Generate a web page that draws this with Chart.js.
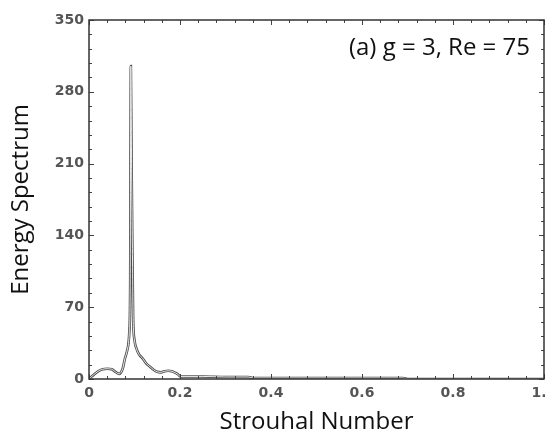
<!DOCTYPE html>
<html>
<head>
<meta charset="utf-8">
<script src="https://cdn.jsdelivr.net/npm/chart.js@4/dist/chart.umd.min.js"></script>
<style>
  html, body { margin: 0; padding: 0; background: #fff; overflow: hidden; }
  .graphBox { position: relative; width: 545px; height: 432px; }
</style>
</head>
<body>
<div class="graphBox"><canvas id="spectrum"></canvas></div>
<script>
// values
const strouhal = [0, 0.01, 0.02, 0.03, 0.04, 0.05, 0.058, 0.066, 0.074, 0.079, 0.084, 0.0885,
  0.0905, 0.092, 0.0935, 0.095, 0.097, 0.1, 0.104, 0.11, 0.118, 0.126, 0.134, 0.142, 0.15,
  0.158, 0.166, 0.174, 0.182, 0.19, 0.197, 0.2, 0.22, 0.25, 0.3, 0.35, 0.36, 0.45, 0.55,
  0.65, 0.69, 0.7, 0.8, 0.9, 1];
const energy = [0, 4, 7.5, 9.5, 10, 9.5, 7, 5, 10, 20, 28, 45,
  90, 305, 215, 145, 60, 38, 30, 24, 20, 15, 12, 9, 7,
  6.5, 7.5, 8, 7.5, 6, 4, 2.5, 2.5, 2.5, 2, 2, 1, 1, 1,
  1, 1, 0, 0, 0, 0];
const xTicks = [0, 0.2, 0.4, 0.6, 0.8, 1];
const yTicks = [0, 70, 140, 210, 280, 350];
const caseLabel = "(a) g = 3, Re = 75";

const points = strouhal.map((s, i) => ({x: s, y: energy[i]}));

// inward ticks on all four sides + frame
const frameTicks = {
  id: 'frameTicks',
  afterDatasetsDraw(chart) {
    const {ctx, chartArea: a, scales} = chart;
    ctx.save();
    ctx.strokeStyle = '#444';
    ctx.lineWidth = 1;
    const xs = scales.x, ys = scales.y;
    for (let i = 0; i < xTicks.length; i++) {
      const v = xTicks[i];
      for (let k = 0; k < 5; k++) {
        const val = v + k * 0.04;
        if (val > 1.0001) break;
        const px = Math.round(xs.getPixelForValue(val)) + 0.5;
        const len = k === 0 ? 5 : 3;
        ctx.beginPath();
        ctx.moveTo(px, a.bottom); ctx.lineTo(px, a.bottom - len);
        ctx.moveTo(px, a.top); ctx.lineTo(px, a.top + len);
        ctx.stroke();
      }
    }
    for (let i = 0; i < yTicks.length; i++) {
      const v = yTicks[i];
      for (let k = 0; k < 5; k++) {
        const val = v + k * 14;
        if (val > 350.01) break;
        const py = Math.round(ys.getPixelForValue(val)) + 0.5;
        const len = k === 0 ? 5 : 3;
        ctx.beginPath();
        ctx.moveTo(a.left, py); ctx.lineTo(a.left + len, py);
        ctx.moveTo(a.right, py); ctx.lineTo(a.right - len, py);
        ctx.stroke();
      }
    }
    ctx.lineWidth = 1.5;
    ctx.strokeStyle = '#333';
    ctx.strokeRect(a.left, a.top, a.right - a.left, a.bottom - a.top);
    // case label
    ctx.fillStyle = '#111';
    ctx.font = '24px "Open Sans"';
    ctx.textAlign = 'right';
    ctx.textBaseline = 'alphabetic';
    ctx.fillText(caseLabel, a.right - 14, a.top + 35);
    ctx.restore();
  }
};

new Chart(document.getElementById('spectrum'), {
  type: 'line',
  data: {
    datasets: [
      {
        data: points,
        borderColor: '#ffffff',
        borderWidth: 0.9,
        pointRadius: 0,
        cubicInterpolationMode: 'monotone',
        order: 0
      },
      {
        data: points,
        borderColor: '#4a4a4a',
        borderWidth: 2.6,
        pointRadius: 0,
        cubicInterpolationMode: 'monotone',
        order: 1
      }
    ]
  },
  options: {
    responsive: true,
    maintainAspectRatio: false,
    animation: false,
    layout: { padding: { top: 20, right: 1, left: 0, bottom: 0 } },
    plugins: { legend: { display: false }, tooltip: { enabled: false } },
    scales: {
      x: {
        type: 'linear',
        min: 0, max: 1,
        afterBuildTicks: s => { s.ticks = xTicks.map(v => ({value: v})); },
        afterFit: s => { s.height = 53; s.paddingLeft = 0; s.paddingRight = 0; },
        grid: { display: false, drawTicks: false },
        border: { display: false },
        ticks: {
          padding: 6,
          color: '#555',
          font: { family: 'DejaVu Sans', size: 14, weight: 'bold' },
          maxRotation: 0
        },
        title: {
          display: true,
          text: 'Strouhal Number',
          color: '#111',
          font: { family: 'Open Sans', size: 24 },
          padding: { top: 0, bottom: -5 }
        }
      },
      y: {
        min: 0, max: 350,
        afterBuildTicks: s => { s.ticks = yTicks.map(v => ({value: v})); },
        afterFit: s => { s.width = 89; s.paddingTop = 0; s.paddingBottom = 0; },
        grid: { display: false, drawTicks: false },
        border: { display: false },
        ticks: {
          padding: 5,
          color: '#555',
          font: { family: 'DejaVu Sans', size: 14, weight: 'bold' }
        },
        title: {
          display: true,
          text: 'Energy Spectrum',
          color: '#111',
          font: { family: 'Open Sans', size: 24 },
          padding: { top: 7, bottom: 0 }
        }
      }
    }
  },
  plugins: [frameTicks]
});
</script>
</body>
</html>
